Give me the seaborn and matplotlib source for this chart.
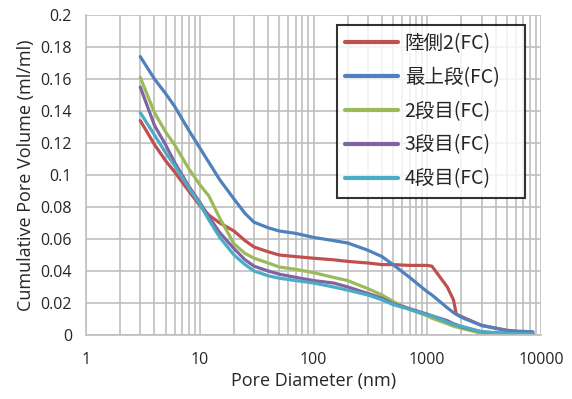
import pandas as pd
import numpy as np
import matplotlib
matplotlib.use("Agg")
import matplotlib.pyplot as plt
import matplotlib.ticker as mticker
import seaborn as sns

# pore diameter (nm), shared by every series
diameter = [3, 4, 5, 6, 8, 10, 12, 15, 20, 25, 30, 40, 50, 70, 100, 150, 200,
            300, 400, 500, 700, 1000, 1100, 1500, 1700, 1800, 2000, 3000, 5000, 8500]

rikugawa2 = [0.134, 0.119, 0.109, 0.102, 0.090, 0.081, 0.075, 0.070, 0.065, 0.059,
             0.055, 0.052, 0.050, 0.049, 0.048, 0.047, 0.046, 0.045, 0.044, 0.044,
             0.0435, 0.0435, 0.043, 0.030, 0.022, 0.013, 0.0115, 0.006, 0.003, 0.001]
saijodan = [0.174, 0.160, 0.151, 0.143, 0.128, 0.117, 0.108, 0.097, 0.085, 0.076,
            0.0705, 0.067, 0.065, 0.0635, 0.061, 0.059, 0.0575, 0.053, 0.049, 0.044,
            0.036, 0.027, 0.025, 0.017, 0.014, 0.013, 0.011, 0.006, 0.0027, 0.002]
dan2 = [0.161, 0.139, 0.127, 0.119, 0.104, 0.094, 0.087, 0.073, 0.057, 0.051,
        0.048, 0.045, 0.0425, 0.041, 0.039, 0.036, 0.034, 0.029, 0.025, 0.021,
        0.016, 0.012, 0.0105, 0.007, 0.0055, 0.005, 0.0042, 0.001, 0.0005, 0.0005]
dan3 = [0.155, 0.131, 0.119, 0.108, 0.093, 0.083, 0.074, 0.064, 0.054, 0.047,
        0.043, 0.040, 0.038, 0.036, 0.034, 0.0325, 0.030, 0.026, 0.023, 0.0195,
        0.0165, 0.013, 0.012, 0.009, 0.007, 0.0065, 0.005, 0.002, 0.001, 0.0005]
dan4 = [0.139, 0.125, 0.114, 0.106, 0.092, 0.082, 0.072, 0.061, 0.050, 0.044,
        0.040, 0.037, 0.0355, 0.034, 0.0325, 0.030, 0.028, 0.025, 0.022, 0.019,
        0.016, 0.0125, 0.012, 0.008, 0.0065, 0.006, 0.0055, 0.002, 0.001, 0.0005]

labels = ["陸側2(FC)", "最上段(FC)", "2段目(FC)", "3段目(FC)", "4段目(FC)"]
colors = ["#C0504D", "#4F81BD", "#9BBB59", "#8064A2", "#4BACC6"]
series = [rikugawa2, saijodan, dan2, dan3, dan4]

df = pd.concat([pd.DataFrame({"diameter": diameter, "volume": v, "sample": lab})
                for v, lab in zip(series, labels)], ignore_index=True)

sns.set_style("white")
plt.rcParams["font.family"] = ["Open Sans", "DejaVu Sans"]

fig = plt.figure(figsize=(5.72, 3.99), dpi=100)
ax = fig.add_axes([86 / 572, 1 - 335 / 399, 455 / 572, 320 / 399])

sns.lineplot(data=df, x="diameter", y="volume", hue="sample", hue_order=labels,
             palette=colors, linewidth=2.3, ax=ax, sort=False)

ax.set_xscale("log")
ax.set_xlim(1, 10000)
ax.set_ylim(0, 0.2)
ax.set_yticks(np.arange(0, 0.2001, 0.02))
ax.yaxis.set_major_formatter(mticker.FuncFormatter(lambda v, p: "0" if v == 0 else f"{v:.2f}".rstrip("0")))
ax.xaxis.set_major_formatter(mticker.FuncFormatter(lambda v, p: f"{v:g}"))
ax.xaxis.set_minor_locator(mticker.LogLocator(base=10, subs=np.arange(2, 10)))
ax.xaxis.set_minor_formatter(mticker.NullFormatter())

ax.grid(True, which="major", color="#bfbfbf", linewidth=1.2)
ax.grid(True, which="minor", axis="x", color="#bfbfbf", linewidth=1.2)
for s in ["top", "right"]:
    ax.spines[s].set_visible(False)
for s in ["left", "bottom"]:
    ax.spines[s].set_color("#bfbfbf")
    ax.spines[s].set_linewidth(1.2)
ax.tick_params(which="major", length=4, color="#bfbfbf", width=1.2, labelsize=11.5, pad=6)
ax.tick_params(axis="x", which="major", pad=8)
ax.tick_params(which="minor", length=0)

ax.set_xlabel("Pore Diameter (nm)", fontsize=13, labelpad=3)
ax.set_ylabel("Cumulative Pore Volume (ml/ml)", fontsize=13, labelpad=4)

leg = ax.legend(loc="upper left", bbox_to_anchor=(0.552, 0.431, 0.413, 0.538),
                mode="expand", frameon=True,
                fancybox=False, edgecolor="black", handlelength=2.7,
                labelspacing=0.66, borderpad=0.42, handletextpad=0.35,
                borderaxespad=0,
                prop={"family": ["Noto Sans CJK JP", "DejaVu Sans"], "size": 14})
leg.get_frame().set_linewidth(1.5)
for line in leg.get_lines():
    line.set_linewidth(3)

fig.savefig("out.png", dpi=100)
